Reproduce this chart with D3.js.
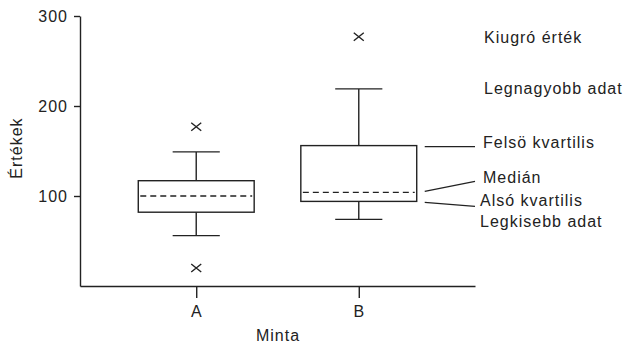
<!DOCTYPE html>
<html><head><meta charset="utf-8">
<script src="https://cdn.jsdelivr.net/npm/d3@7"></script>
<style>
body{margin:0;background:#fff;}
text{font-family:"Liberation Sans",Arial,sans-serif;font-size:16px;letter-spacing:1px;fill:#222;}
</style></head><body>
<svg id="c" width="626" height="344"></svg>
<script>
const categories = ["A", "B"];
const q1Values = [82, 94];
const medianValues = [100, 104];
const q3Values = [117, 156];
const minValues = [56, 74];
const maxValues = [149, 219];
const outlierValues = [[177, 20], [277]];
const yTicks = [100, 200, 300];
const annotationLabels = ["Kiugró érték", "Legnagyobb adat", "Felsö kvartilis", "Medián", "Alsó kvartilis", "Legkisebb adat"];

const svg = d3.select("#c");
const ink = "#222";
const y = d3.scaleLinear().domain([0, 300]).range([286, 16]);
const x = d3.scalePoint().domain(categories).range([80, 475]).padding(0.715);
const step = x.step();

// y axis
const ya = svg.append("g").attr("transform", "translate(80,0)")
  .call(d3.axisLeft(y).tickValues(yTicks).tickSize(6).tickSizeOuter(0).tickPadding(6));
ya.selectAll("path,line").attr("stroke", ink).attr("stroke-width", 1.4);
ya.selectAll("text").attr("font-size", null).attr("font-family", null).attr("fill", ink).attr("dy", "0.36em");

// x axis
const xa = svg.append("g").attr("transform", "translate(0,286)")
  .call(d3.axisBottom(x).tickSize(12).tickSizeOuter(0).tickPadding(8));
xa.selectAll("path,line").attr("stroke", ink).attr("stroke-width", 1.4);
xa.selectAll("text").attr("font-size", null).attr("font-family", null).attr("fill", ink).attr("dy", "0.71em");

svg.append("text").attr("x", 278).attr("y", 341).attr("text-anchor", "middle").text("Minta");
svg.append("text").attr("transform", "translate(22,148) rotate(-90)").attr("text-anchor", "middle").text("Értékek");

// boxes
const boxW = step * 0.713;
const capW = step * 0.29;
categories.forEach((c, i) => {
  const cx = x(c);
  const g = svg.append("g").attr("stroke", ink).attr("fill", "none").attr("stroke-width", 1.4);
  // whiskers
  g.append("line").attr("x1", cx).attr("x2", cx).attr("y1", y(q3Values[i])).attr("y2", y(maxValues[i]));
  g.append("line").attr("x1", cx).attr("x2", cx).attr("y1", y(q1Values[i])).attr("y2", y(minValues[i]));
  g.append("line").attr("x1", cx - capW / 2).attr("x2", cx + capW / 2).attr("y1", y(maxValues[i])).attr("y2", y(maxValues[i]));
  g.append("line").attr("x1", cx - capW / 2).attr("x2", cx + capW / 2).attr("y1", y(minValues[i])).attr("y2", y(minValues[i]));
  // box
  g.append("rect").attr("x", cx - boxW / 2).attr("width", boxW)
    .attr("y", y(q3Values[i])).attr("height", y(q1Values[i]) - y(q3Values[i]));
  // median
  g.append("line").attr("x1", cx - boxW / 2 + 2).attr("x2", cx + boxW / 2 - 2)
    .attr("y1", y(medianValues[i])).attr("y2", y(medianValues[i]))
    .attr("stroke-dasharray", "6,4");
  // outliers
  outlierValues[i].forEach(v => {
    const oy = y(v);
    g.append("path").attr("d", `M${cx - 5},${oy - 4}L${cx + 5},${oy + 4}M${cx - 5},${oy + 4}L${cx + 5},${oy - 4}`);
  });
});

// annotations for box B
const bi = 1;
const bx = x(categories[bi]);
const lx1 = bx + boxW / 2 + 8, lx2 = 475;
const lead = svg.append("g").attr("stroke", ink).attr("stroke-width", 1.3);
lead.append("line").attr("x1", lx1).attr("x2", lx2).attr("y1", y(q3Values[bi]) + 1).attr("y2", y(q3Values[bi]) + 1);
lead.append("line").attr("x1", lx1).attr("x2", lx2).attr("y1", y(medianValues[bi]) - 1).attr("y2", y(medianValues[bi]) - 11);
lead.append("line").attr("x1", lx1).attr("x2", lx2).attr("y1", y(q1Values[bi]) + 1).attr("y2", y(q1Values[bi]) + 5);

const annPos = [[484, 43], [484, 94], [483, 148], [483, 183], [480, 206], [480, 227]];
annotationLabels.forEach((t, i) => {
  svg.append("text").attr("x", annPos[i][0]).attr("y", annPos[i][1]).text(t);
});
</script></body></html>
